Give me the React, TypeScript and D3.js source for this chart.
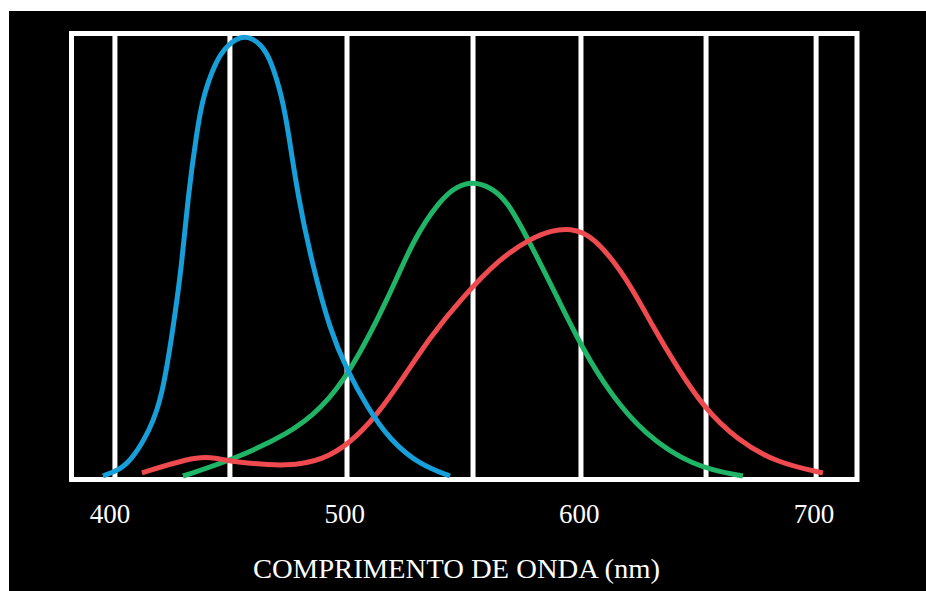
import React, { useEffect, useRef } from "react";
import * as d3 from "d3";

// wavelengths (nm) and relative sensitivity
const blueNm = [397, 404.3, 409.8, 417, 422.2, 426.8, 430.7, 433.2, 437.1, 439.6, 444.7, 449.9, 457.5, 464.8, 469, 473.3, 475.9, 480.1, 486.1, 493.7, 501, 509.5, 519.3, 532.1, 544.9];
const blueVal = [0, 0.014, 0.041, 0.105, 0.18, 0.333, 0.486, 0.637, 0.79, 0.865, 0.943, 0.985, 1.01, 0.985, 0.943, 0.865, 0.79, 0.637, 0.486, 0.333, 0.242, 0.158, 0.082, 0.025, 0];

const greenNm = [431.1, 452.4, 476.7, 489.5, 502.3, 519.3, 529.1, 540.6, 547.9, 554.7, 561.9, 569.2, 579, 590.5, 601.6, 613.1, 627.1, 648.4, 669.7];
const greenVal = [0, 0.037, 0.098, 0.151, 0.235, 0.413, 0.539, 0.63, 0.662, 0.672, 0.66, 0.63, 0.532, 0.409, 0.288, 0.189, 0.098, 0.021, 0];

const redNm = [413.6, 434.1, 442.6, 452.4, 476.7, 490.8, 502.3, 513.8, 524.9, 536.4, 549.2, 566.2, 580.3, 588, 596, 605.8, 620.3, 631.4, 641.6, 652.7, 667.2, 684.2, 703.8];
const redVal = [0.007, 0.041, 0.044, 0.032, 0.021, 0.037, 0.075, 0.139, 0.224, 0.317, 0.402, 0.498, 0.545, 0.56, 0.566, 0.55, 0.452, 0.34, 0.249, 0.158, 0.082, 0.03, 0.007];

const gridNm = [402.1, 451.1, 501, 554.7, 600.7, 654, 700.9];
const tickNm = [400, 500, 600, 700];
const xTitle = "COMPRIMENTO DE ONDA (nm)";

const W = 926;
const H = 591;

export default function App() {
  const svgRef = useRef<SVGSVGElement>(null);

  useEffect(() => {
    const svg = d3.select(svgRef.current);
    svg.selectAll("*").remove();

    const x = d3.scaleLinear().domain([400, 700]).range([110, 814]);
    const y = d3.scaleLinear().domain([0, 1]).range([476, 38]);

    const box = { left: 71.5, right: 857, top: 33.5, bottom: 479.5 };

    // black backdrop
    svg
      .append("rect")
      .attr("x", 9)
      .attr("y", 11)
      .attr("width", W - 9)
      .attr("height", H - 11)
      .attr("fill", "#000");

    // vertical white grid lines
    svg
      .selectAll(".grid")
      .data(gridNm)
      .enter()
      .append("line")
      .attr("class", "grid")
      .attr("x1", (d) => x(d))
      .attr("x2", (d) => x(d))
      .attr("y1", box.top)
      .attr("y2", box.bottom)
      .attr("stroke", "#fff")
      .attr("stroke-width", 5);

    svg
      .append("rect")
      .attr("x", box.left)
      .attr("y", box.top)
      .attr("width", box.right - box.left)
      .attr("height", box.bottom - box.top)
      .attr("fill", "none")
      .attr("stroke", "#fff")
      .attr("stroke-width", 5);

    const line = d3
      .line<[number, number]>()
      .x((d) => x(d[0]))
      .y((d) => y(d[1]))
      .curve(d3.curveBasis);

    const series = [
      { nm: greenNm, v: greenVal, color: "#1fb466" },
      { nm: redNm, v: redVal, color: "#ee4a4f" },
      { nm: blueNm, v: blueVal, color: "#179fda" },
    ];

    series.forEach((s) => {
      const pts: [number, number][] = s.nm.map((n, i) => [n, s.v[i]]);
      svg
        .append("path")
        .attr("d", line(pts))
        .attr("fill", "none")
        .attr("stroke", s.color)
        .attr("stroke-width", 5)
        .attr("stroke-linecap", "butt");
    });

    svg
      .selectAll(".tick")
      .data(tickNm)
      .enter()
      .append("text")
      .attr("class", "tick")
      .attr("x", (d) => x(d))
      .attr("y", 523)
      .attr("text-anchor", "middle")
      .attr("fill", "#fff")
      .style("font-family", "'Liberation Serif', serif")
      .style("font-size", "27px")
      .text((d) => d);

    svg
      .append("text")
      .attr("x", 456.5)
      .attr("y", 578)
      .attr("text-anchor", "middle")
      .attr("fill", "#fff")
      .attr("textLength", 407)
      .attr("lengthAdjust", "spacingAndGlyphs")
      .style("font-family", "'Liberation Serif', serif")
      .style("font-size", "27px")
      .text(xTitle);
  }, []);

  return (
    <svg
      ref={svgRef}
      width={W}
      height={H}
      style={{ position: "absolute", left: 0, top: 0, background: "#fff" }}
    ></svg>
  );
}
